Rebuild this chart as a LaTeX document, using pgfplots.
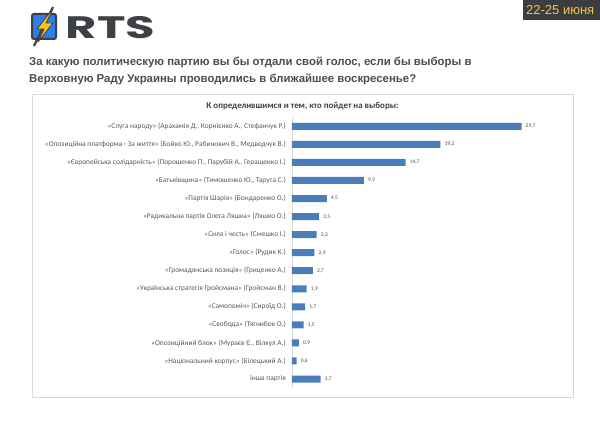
\documentclass[border=0pt]{standalone}
\usepackage{fontspec}
\setmainfont{Carlito}
\newfontfamily\arialf{Liberation Sans}
\newfontfamily\popf{Poppins}
\usepackage{pgfplots}
\pgfplotsset{compat=1.18}
\definecolor{barblue}{HTML}{4A7EBB}
\definecolor{logodark}{HTML}{3D4045}
\definecolor{logoblue}{HTML}{2F7BF0}
\definecolor{boltyellow}{HTML}{F5C518}
\definecolor{datebg}{HTML}{3B3D40}
\definecolor{dateyellow}{HTML}{F2C84B}
\definecolor{titlegray}{HTML}{4D4D4D}
\definecolor{labelgray}{HTML}{595959}
\definecolor{framegray}{HTML}{D9D9D9}
\begin{document}
\begin{tikzpicture}
\path[use as bounding box] (0pt,0pt) rectangle (600pt,-428pt);
\clip (0pt,0pt) rectangle (600pt,-428pt);
\fill[white] (0pt,0pt) rectangle (600pt,-428pt);
\begin{scope}[x=1pt,y=-1pt]
% date box
\fill[datebg] (523,0) rectangle (600,20);
\node[anchor=west,inner sep=0pt,text=dateyellow,font=\arialf\fontsize{13}{14}\selectfont] at (526,10.5) {22-25 июня};
% logo
\draw[logodark,line width=2pt,rounded corners=2pt,fill=logoblue] (32,14) rectangle (56,39);
\draw[logodark,line width=2.2pt] (53,7) -- (34,46);
\draw[logodark,line width=0.8pt,fill=boltyellow,line join=round] (51,11) -- (37,29) -- (44,29) -- (38,42) -- (53,23) -- (46,23) -- (52,11) -- cycle;
\node[anchor=west,inner sep=0pt,text=logodark,xscale=1.55,font=\popf\bfseries\fontsize{31}{31}\selectfont] at (65.5,28) {RTS};
% title
\node[anchor=base west,inner sep=0pt,text=titlegray,font=\arialf\bfseries\fontsize{11.4}{13}\selectfont] at (29,66) {За какую политическую партию вы бы отдали свой голос, если бы выборы в};
\node[anchor=base west,inner sep=0pt,text=titlegray,font=\arialf\bfseries\fontsize{11.4}{13}\selectfont] at (29,82) {Верховную Раду Украины проводились в ближайшее воскресенье?};
% chart frame
\draw[framegray,line width=0.8pt] (32,94) rectangle (573,397.5);
\node[inner sep=0pt,text=black!75,font=\bfseries\fontsize{8.9}{10}\selectfont] at (302.5,106) {К определившимся и тем, кто пойдет на выборы:};
\end{scope}
\begin{axis}[
  at={(292pt,-117.3pt)}, anchor=north west,
  scale only axis, width=270.5pt, height=270.75pt,
  xmin=0, xmax=35, ymin=-0.5, ymax=14.5, y dir=reverse,
  axis x line=none, axis y line*=left,
  y axis line style={-, draw=framegray, line width=0.8pt},
  ytick={0,...,14}, ytick style={draw=none},
  yticklabels={
    {«Слуга народу» (Арахамія Д., Корнієнко А., Стефанчук Р.)},
    {«Опозиційна платформа - За життя» (Бойко Ю., Рабинович В., Медведчук В.)},
    {«Європейська солідарність» (Порошенко П., Парубій А., Геращенко І.)},
    {«Батьківщина» (Тимошенко Ю., Тарута С.)},
    {«Партія Шарія» (Бондаренко О.)},
    {«Радикальна партія Олега Ляшка» (Ляшко О.)},
    {«Сила і честь» (Смешко І.)},
    {«Голос» (Рудик К.)},
    {«Громадянська позиція» (Гриценко А.)},
    {«Українська стратегія Гройсмана» (Гройсман В.)},
    {«Самопоміч» (Сироїд О.)},
    {«Свобода» (Тягнибок О.)},
    {«Опозиційний блок» (Мураєв Є., Вілкул А.)},
    {«Національний корпус» (Білецький А.)},
    {інша партія}},
  yticklabel style={font=\fontsize{7.4}{8}\selectfont, text=labelgray, inner sep=0pt, xshift=-6pt},
  /pgf/number format/.cd, use comma, fixed, fixed zerofill, precision=1, assume math mode=true,
  /pgfplots/.cd,
  clip=false,
]
\addplot[xbar, bar width=7pt, fill=barblue, draw=none, point meta=x,
  nodes near coords,
  nodes near coords style={font=\fontsize{5.5}{6}\selectfont, text=black!70, inner sep=0pt, anchor=west, xshift=4pt}]
coordinates {
(29.7,0) (19.2,1) (14.7,2) (9.3,3) (4.5,4) (3.5,5) (3.2,6) (2.9,7)
(2.7,8) (1.9,9) (1.7,10) (1.5,11) (0.9,12) (0.6,13) (3.7,14)
};
\end{axis}
\end{tikzpicture}
\end{document}
